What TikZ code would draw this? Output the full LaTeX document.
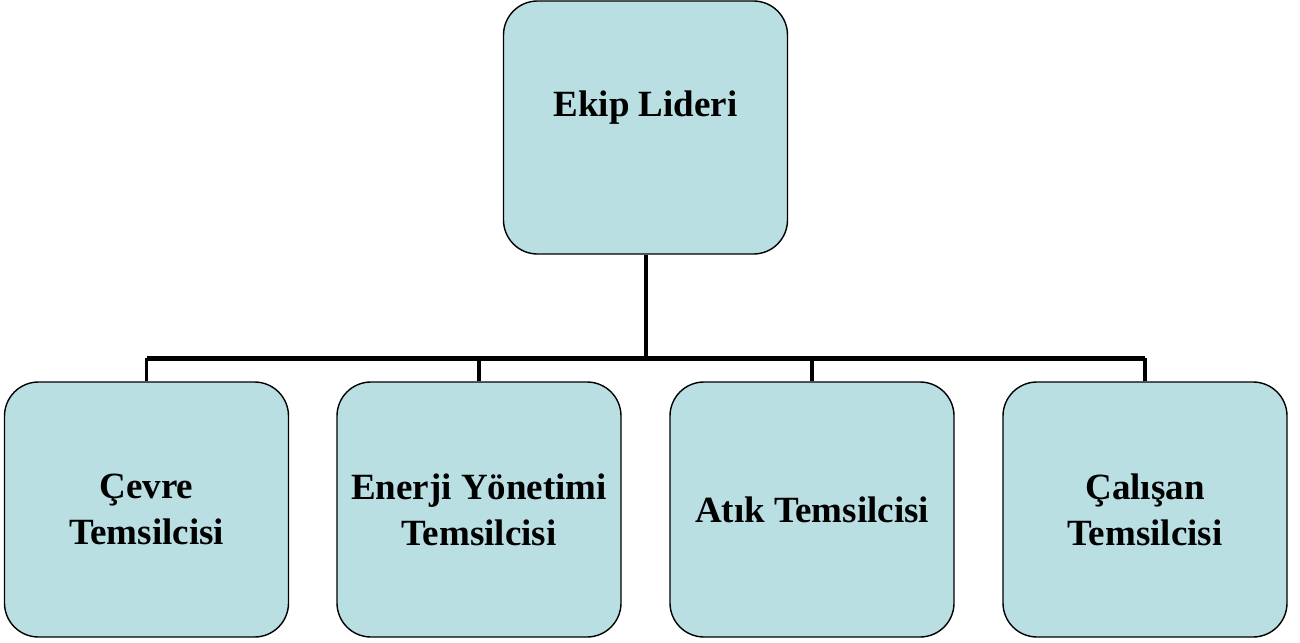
\documentclass[tikz,border=0pt]{standalone}
\usepackage{fontspec}
\setmainfont{Liberation Serif}
\usepackage{tikz}
\usetikzlibrary{positioning}
\definecolor{kutu}{RGB}{185,223,227}

\begin{document}
\begin{tikzpicture}[x=1pt, y=-1pt,
  uye/.style={draw, fill=kutu, line width=1.4pt, rounded corners=34pt,
    minimum width=284pt, minimum height=255pt, align=center,
    font=\fontsize{37}{46}\selectfont\bfseries},
  hat/.style={line width=4pt},
  ana/.style={line width=5pt}]
\useasboundingbox (0,0) rectangle (1300,642);

\node[uye, minimum height=253pt, text depth=47pt] (lider) at (645.5,127.5) {Ekip Lideri};
\node[uye] (cevre) at (146.5,509.5) {Çevre\\Temsilcisi};
\node[uye] (enerji) at (479,509.5) {Enerji Yönetimi\\Temsilcisi};
\node[uye] (atik) at (812,509.5) {Atık Temsilcisi};
\node[uye] (calisan) at (1145,509.5) {Çalışan\\Temsilcisi};

\coordinate (bar) at (0,358);
\draw[hat] (lider.south) -- (lider.south |- bar);
\draw[ana] (cevre.north |- bar) -- (calisan.north |- bar);
\foreach \n in {cevre, enerji, atik, calisan}
  \draw[hat, line width=3.5pt] (\n.north) -- (\n.north |- bar);
\end{tikzpicture}
\end{document}
